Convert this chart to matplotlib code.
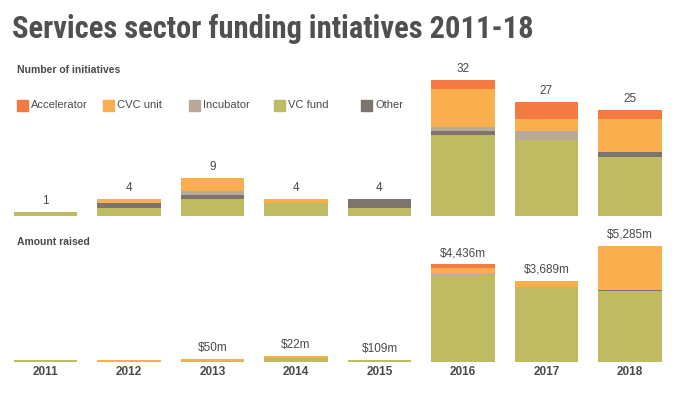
import matplotlib.pyplot as plt
import numpy as np
from matplotlib.patches import Rectangle

years = ["2011", "2012", "2013", "2014", "2015", "2016", "2017", "2018"]
categories = ["VC fund", "Other", "Incubator", "CVC unit", "Accelerator"]
legend_order = ["Accelerator", "CVC unit", "Incubator", "VC fund", "Other"]
colors = {"Accelerator": "#F47A44", "CVC unit": "#FAAF4E", "Incubator": "#B9A998",
          "VC fund": "#BFBB62", "Other": "#7D756C"}

# number of initiatives by type
count_vc = [1, 2, 4, 3, 2, 19, 18, 14]
count_other = [0, 1, 1, 0, 2, 1, 0, 1]
count_incubator = [0, 0, 1, 0, 0, 1, 2, 0]
count_cvc = [0, 1, 3, 1, 0, 9, 3, 8]
count_accel = [0, 0, 0, 0, 0, 2, 4, 2]
count_labels = ["1", "4", "9", "4", "4", "32", "27", "25"]

# amount raised ($m) by type, as drawn
amt_vc = [90, 0, 50, 180, 80, 3960, 3400, 3230]
amt_other = [0, 0, 0, 0, 29, 0, 0, 25]
amt_incubator = [0, 0, 0, 0, 0, 20, 20, 0]
amt_cvc = [0, 90, 80, 80, 0, 310, 239, 2010]
amt_accel = [0, 0, 0, 0, 0, 146, 30, 20]
amt_labels = ["", "", "$50m", "$22m", "$109m", "$4,436m", "$3,689m", "$5,285m"]

plt.rcParams['font.family'] = ['Liberation Sans', 'DejaVu Sans']
txt = "#4a4a4a"

W, H = 677, 399
fig = plt.figure(figsize=(W / 100, H / 100), dpi=100)

def px_axes(left, top, right, bottom):
    return fig.add_axes([left / W, 1 - bottom / H, (right - left) / W, (bottom - top) / H])

ax1 = px_axes(3.75, 60, 671.75, 216)
ax2 = px_axes(3.75, 235, 671.75, 362)

x = np.arange(len(years))
width = 0.755

def stack(ax, series, labels, ymax):
    bottom = np.zeros(len(years))
    for name, vals in zip(categories, series):
        vals = np.array(vals, dtype=float)
        ax.bar(x, vals, width, bottom=bottom, color=colors[name], linewidth=0)
        bottom += vals
    for xi, tot, lab in zip(x, bottom, labels):
        if lab:
            ax.annotate(lab, (xi, tot), xytext=(0, 3.5), textcoords="offset points",
                        ha="center", va="bottom", fontsize=8.5, color=txt)
    ax.set_xlim(-0.5, len(years) - 0.5)
    ax.set_ylim(0, ymax)
    for s in ax.spines.values():
        s.set_visible(False)
    ax.set_yticks([])

stack(ax1, [count_vc, count_other, count_incubator, count_cvc, count_accel], count_labels, 36.8)
ax1.set_xticks([])

stack(ax2, [amt_vc, amt_other, amt_incubator, amt_cvc, amt_accel], amt_labels, 5771)
ax2.set_xticks(x)
ax2.set_xticklabels(years, fontsize=8.5, fontweight="bold", color=txt)
ax2.tick_params(axis="x", length=0, pad=3)

fig.text(12 / W, 1 - 38 / H, "Services sector funding intiatives 2011-18",
         fontsize=22, fontweight="bold", color="#505050",
         family=["Roboto Condensed", "DejaVu Sans"], va="baseline")
fig.text(17 / W, 1 - 70 / H, "Number of initiatives", fontsize=7.5, fontweight="bold",
         color=txt, va="center")
fig.text(17 / W, 1 - 242 / H, "Amount raised", fontsize=7.5, fontweight="bold",
         color=txt, va="center")

leg_x = [17, 103, 189, 274, 361]
for lx, name in zip(leg_x, legend_order):
    fig.patches.append(Rectangle((lx / W, 1 - 111 / H), 11 / W, 11 / H,
                                 transform=fig.transFigure, color=colors[name], figure=fig))
    fig.text((lx + 14) / W, 1 - 105.5 / H, name, fontsize=8, color=txt, va="center")

fig.savefig("out.png", dpi=100)
